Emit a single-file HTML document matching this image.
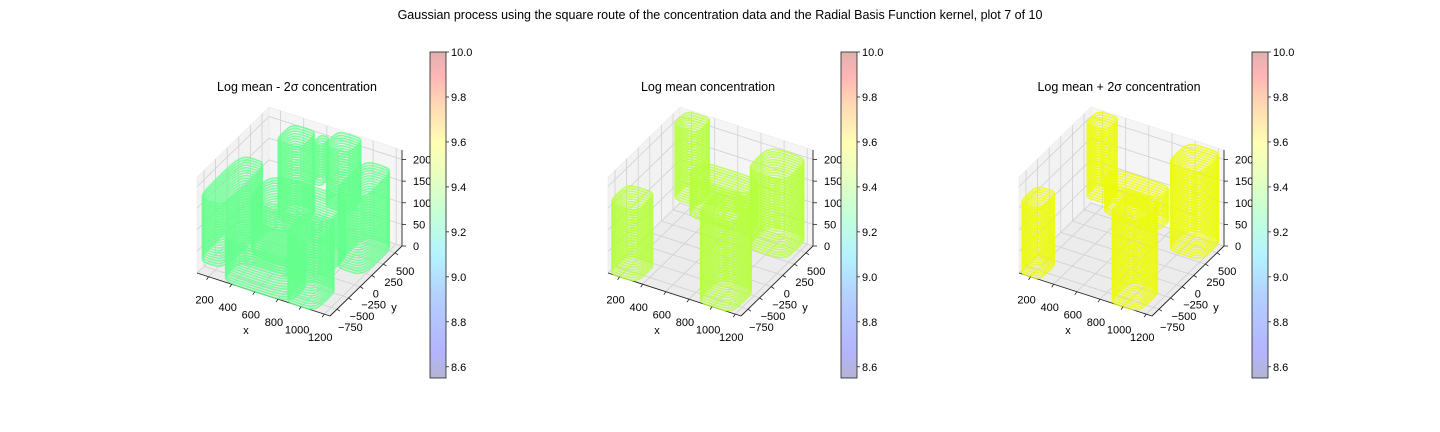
<!DOCTYPE html>
<html><head><meta charset="utf-8">
<style>
html,body{margin:0;padding:0;background:#fff;}
svg{display:block;font-family:"Liberation Sans","DejaVu Sans",sans-serif;}
</style></head>
<body>
<svg id="fig" width="1440" height="432" viewBox="0 0 1440 432" xmlns="http://www.w3.org/2000/svg">
<defs>
<linearGradient id="cbg" x1="0" y1="1" x2="0" y2="0">
<stop offset="0" stop-color="#b4b4d4"/>
<stop offset="0.08" stop-color="#b4b4ff"/>
<stop offset="0.25" stop-color="#b4d0ff"/>
<stop offset="0.38" stop-color="#b4f4ff"/>
<stop offset="0.5" stop-color="#c4ffd8"/>
<stop offset="0.62" stop-color="#e8ffc0"/>
<stop offset="0.72" stop-color="#ffffb4"/>
<stop offset="0.84" stop-color="#ffd8b4"/>
<stop offset="0.93" stop-color="#ffb4b4"/>
<stop offset="1" stop-color="#e0b0b0"/>
</linearGradient>
</defs>
<text x="720" y="19" font-size="12.5" text-anchor="middle">Gaussian process using the square route of the concentration data and the Radial Basis Function kernel, plot 7 of 10</text>
<g id="root"></g>
</svg>
<script>
// ---- data ----
const panelTitles = ["Log mean - 2σ concentration", "Log mean concentration", "Log mean + 2σ concentration"];
const panelColors = ["rgb(100,255,140)", "rgb(182,255,60)", "rgb(236,250,10)"];
const xTicks = [200, 400, 600, 800, 1000, 1200];
const yTicks = [-750, -500, -250, 0, 250, 500];
const zTicks = [0, 50, 100, 150, 200];
const cbTicks = [8.6, 8.8, 9.0, 9.2, 9.4, 9.6, 9.8, 10.0];
// column sheets per panel: [x0, x1, y0, y1, zlo, zhi]
const sheets1 = [
  [300, 520, 280, 650, 20, 205],
  [700, 920, 330, 650, 80, 218],
  [560, 640, 420, 620, 110, 205],
  [100, 330, -900, 50, 30, 175],
  [330, 1020, -450, 150, 20, 140],
  [1000, 1250, -200, 480, 20, 195],
  [300, 900, -900, -450, 0, 100],
  [850, 1120, -900, -400, 0, 160]
];
const sheets2 = [
  [160, 380, 330, 650, 50, 218],
  [880, 1220, 120, 630, 20, 205],
  [380, 900, 80, 420, 55, 145],
  [100, 350, -900, -480, 0, 165],
  [860, 1170, -900, -380, 0, 205]
];
const sheets3 = [
  [160, 350, 360, 650, 50, 218],
  [940, 1240, 180, 650, 15, 218],
  [400, 900, 120, 400, 60, 135],
  [100, 280, -900, -520, 0, 165],
  [870, 1140, -900, -420, 0, 205]
];
const panelSheets = [sheets1, sheets2, sheets3];

// ---- geometry ----
const XR = [100, 1250], YR = [-900, 650], ZR = [0, 222];
const F1 = [197, 273], DU = [133, 43], DV = [72, -70], H = 96;
const OFFS = [0, 411, 822];
const NS = "http://www.w3.org/2000/svg";
const root = document.getElementById('root');
function mk(tag, attrs, parent) {
  const e = document.createElementNS(NS, tag);
  for (const k in attrs) e.setAttribute(k, attrs[k]);
  (parent || root).appendChild(e);
  return e;
}
function proj(x, y, z, ox) {
  const u = (x - XR[0]) / (XR[1] - XR[0]);
  const v = (y - YR[0]) / (YR[1] - YR[0]);
  const w = (z - ZR[0]) / (ZR[1] - ZR[0]);
  return [F1[0] + ox + u * DU[0] + v * DV[0], F1[1] + u * DU[1] + v * DV[1] - w * H];
}
function pts(arr) { return arr.map(p => p[0].toFixed(1) + "," + p[1].toFixed(1)).join(" "); }

panelTitles.forEach((title, pi) => {
  const ox = OFFS[pi];
  const g = mk('g', {});
  
  
  const t = mk('text', {x: 297 + ox, y: 91, 'font-size': 12.5, 'text-anchor': 'middle'}, g);
  t.textContent = title;
  
  
  const P = (x, y, z) => proj(x, y, z, ox);
  const [x0, x1] = XR, [y0, y1] = YR, [z0, z1] = ZR;
  const floor = mk('polygon', {points: pts([P(x0,y0,z0),P(x1,y0,z0),P(x1,y1,z0),P(x0,y1,z0)]), fill: '#ececec', stroke: '#e0e0e0', 'stroke-width': 0.5}, g);
  
  
  const lp = mk('polygon', {points: pts([P(x0,y0,z0),P(x0,y1,z0),P(x0,y1,z1),P(x0,y0,z1)]), fill: '#f2f2f2', stroke: '#e6e6e6', 'stroke-width': 0.5}, g);
  
  
  const bp = mk('polygon', {points: pts([P(x0,y1,z0),P(x1,y1,z0),P(x1,y1,z1),P(x0,y1,z1)]), fill: '#f5f5f5', stroke: '#e6e6e6', 'stroke-width': 0.5}, g);
  
  
  const gs = {stroke: '#d0d0d0', 'stroke-width': 0.8};
  xTicks.forEach(xv => {
    mk('polyline', Object.assign({points: pts([P(xv,y0,z0),P(xv,y1,z0),P(xv,y1,z1)]), fill: 'none'}, gs), g);
  });
  yTicks.forEach(yv => {
    mk('polyline', Object.assign({points: pts([P(x1,yv,z0),P(x0,yv,z0),P(x0,yv,z1)]), fill: 'none'}, gs), g);
  });
  zTicks.forEach(zv => {
    mk('polyline', Object.assign({points: pts([P(x0,y0,zv),P(x0,y1,zv),P(x1,y1,zv)]), fill: 'none'}, gs), g);
  });
  const ax = mk('line', {x1: P(x0,y0,z0)[0], y1: P(x0,y0,z0)[1], x2: P(x1,y0,z0)[0], y2: P(x1,y0,z0)[1], stroke: '#222', 'stroke-width': 0.9}, g);
   
  const ay = mk('line', {x1: P(x1,y0,z0)[0], y1: P(x1,y0,z0)[1], x2: P(x1,y1,z0)[0], y2: P(x1,y1,z0)[1], stroke: '#222', 'stroke-width': 0.9}, g);
   
  const az = mk('line', {x1: P(x1,y1,z0)[0], y1: P(x1,y1,z0)[1], x2: P(x1,y1,z1)[0], y2: P(x1,y1,z1)[1], stroke: '#222', 'stroke-width': 0.9}, g);
   
  const col = panelColors[pi];
  const sg = mk('g', {}, g);
  
  
  panelSheets[pi].forEach(s => {
    const [a0, a1, b0, b1, zl, zh] = s;
    const cx = (a0 + a1) / 2, cy = (b0 + b1) / 2, rx = (a1 - a0) / 2, ry = (b1 - b0) / 2;
    for (let z = zl; z <= zh; z += 6) {
      const ring = [];
      for (let k = 0; k <= 24; k++) {
        const th = k / 24 * 2 * Math.PI;
        const c = Math.cos(th), sn = Math.sin(th);
        const e = 0.5;
        const px = cx + rx * Math.sign(c) * Math.pow(Math.abs(c), e);
        const py = cy + ry * Math.sign(sn) * Math.pow(Math.abs(sn), e);
        ring.push(P(px, py, z));
      }
      const r = mk('polyline', {points: pts(ring), fill: 'none', stroke: col, 'stroke-width': 1.7, 'stroke-opacity': 0.8}, sg);
      
      
    }
  });
  xTicks.forEach(xv => {
    const p = P(xv, y0, z0);
    mk('line', {x1: p[0], y1: p[1], x2: p[0] - 2, y2: p[1] + 3, stroke: '#222', 'stroke-width': 0.8}, g);
    const tl = mk('text', {x: p[0] - 4, y: p[1] + 27, 'font-size': 11, 'text-anchor': 'middle'}, g);
    tl.textContent = xv;
     
  });
  yTicks.forEach(yv => {
    const p = P(x1, yv, z0);
    mk('line', {x1: p[0], y1: p[1], x2: p[0] + 3, y2: p[1] + 2, stroke: '#222', 'stroke-width': 0.8}, g);
    const tl = mk('text', {x: p[0] + 1, y: p[1] + 22, 'font-size': 11, 'text-anchor': 'start'}, g);
    tl.textContent = (yv < 0 ? '\u2212' + (-yv) : yv);
     
  });
  zTicks.forEach(zv => {
    const p = P(x1, y1, zv);
    mk('line', {x1: p[0], y1: p[1], x2: p[0] + 4, y2: p[1], stroke: '#222', 'stroke-width': 0.8}, g);
    const tl = mk('text', {x: p[0] + 11, y: p[1] + 4, 'font-size': 11, 'text-anchor': 'start'}, g);
    tl.textContent = zv;
     
  });
  const xl = mk('text', {x: 246 + ox, y: 334, 'font-size': 11, 'text-anchor': 'middle'}, g);
  xl.textContent = 'x';  
  const yl = mk('text', {x: 394 + ox, y: 311, 'font-size': 11, 'text-anchor': 'middle'}, g);
  yl.textContent = 'y';  
  const cx0 = 430 + ox, cyTop = 52, cyBot = 378;
  const cb = mk('rect', {x: cx0, y: cyTop, width: 16, height: cyBot - cyTop, fill: 'url(#cbg)', stroke: '#222', 'stroke-width': 0.8}, g);
   
  const vmin = 8.55, vmax = 10.0;
  cbTicks.forEach(v => {
    const y = cyBot - (v - vmin) / (vmax - vmin) * (cyBot - cyTop);
    mk('line', {x1: cx0 + 16, y1: y, x2: cx0 + 19, y2: y, stroke: '#222', 'stroke-width': 0.8}, g);
    const tl = mk('text', {x: cx0 + 21, y: y + 4, 'font-size': 11}, g);
    tl.textContent = v.toFixed(1);
     
  });
});
</script>
</body></html>
